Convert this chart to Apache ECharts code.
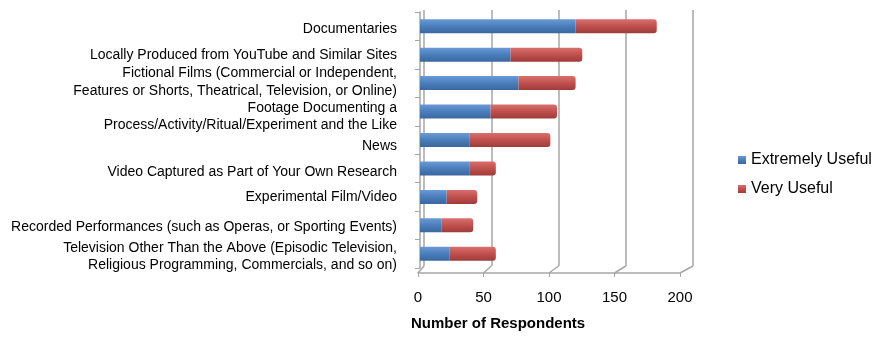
<!DOCTYPE html>
<html><head><meta charset="utf-8">
<script src="https://cdn.jsdelivr.net/npm/echarts@6/dist/echarts.min.js"></script>
<style>html,body{margin:0;padding:0;background:#fff}#c{width:888px;height:348px}</style>
</head><body><div id="c"></div>
<script>
var categories = [
  "Documentaries",
  "Locally Produced from YouTube and Similar Sites",
  "Fictional Films (Commercial or Independent,\nFeatures or Shorts, Theatrical, Television, or Online)",
  "Footage Documenting a\nProcess/Activity/Ritual/Experiment and the Like",
  "News",
  "Video Captured as Part of Your Own Research",
  "Experimental Film/Video",
  "Recorded Performances (such as Operas, or Sporting Events)",
  "Television Other Than the Above (Episodic Television,\nReligious Programming, Commercials, and so on)"
];
var extremelyUseful = [117, 68, 74, 53, 37, 37, 20, 16, 22];
var veryUseful      = [61, 54, 43, 50, 61, 20, 23, 24, 35];
var xTicks = [0, 50, 100, 150, 200];
var seriesNames = ["Extremely Useful", "Very Useful"];
// layout only: how far (px) each category label sits below its bar centre
var labelNudge = [3, 0, -1, 5, 6, 4, 0, 2, 3];

var FONT = "'Liberation Sans', Arial, sans-serif";
function grad(a, b, c) {
  return new echarts.graphic.LinearGradient(0, 0, 0, 1, [
    {offset: 0, color: a}, {offset: 0.5, color: b}, {offset: 1, color: c}]);
}
var rich = {t: {fontFamily: FONT, fontSize: 14, lineHeight: 17.5, color: '#000', align: 'right'}};
labelNudge.forEach(function (n) {
  var k = Math.abs(n);
  if (k) rich['p' + k] = {fontSize: 1, lineHeight: 2 * k, align: 'right'};
});
function labelFmt(value, idx) {
  var lines = String(value).split('\n').map(function (l) { return '{t|' + l + '}'; });
  var n = labelNudge[idx] || 0;
  if (n > 0) lines.unshift('{p' + n + '| }');
  if (n < 0) lines.push('{p' + (-n) + '| }');
  return lines.join('\n');
}
var chart = echarts.init(document.getElementById('c'), null, {renderer: 'canvas'});
var option = {
  animation: false,
  backgroundColor: '#fff',
  color: ['#4a7ebb', '#c0504d'],
  title: {
    text: 'Number of Respondents', left: 406, top: 311,
    textStyle: {fontFamily: FONT, fontSize: 15, fontWeight: 'bold', color: '#000'}
  },
  legend: {
    orient: 'vertical', left: 733, top: 147, itemGap: 13,
    itemWidth: 8, itemHeight: 8, icon: 'rect',
    textStyle: {fontFamily: FONT, fontSize: 16, color: '#000'},
    data: seriesNames
  },
  grid: [
    {left: 424, right: 195, top: 10, bottom: 82},
    {left: 418, right: 208, top: 12, bottom: 75},
    {left: 420, right: 202, top: 12, bottom: 80}
  ],
  xAxis: [
    {gridIndex: 0, type: 'value', min: 0, max: 200, interval: 50,
     axisLine: {show: false}, axisTick: {show: false}, axisLabel: {show: false},
     splitLine: {show: true, lineStyle: {color: '#a6a6a6', width: 1.5}}},
    {gridIndex: 1, type: 'value', min: 0, max: 200, interval: 50,
     axisLine: {show: true, lineStyle: {color: '#a6a6a6', width: 1.5}},
     axisTick: {show: true, length: 4, inside: false, lineStyle: {color: '#a6a6a6'}},
     axisLabel: {fontFamily: FONT, fontSize: 15, color: '#000', margin: 17},
     splitLine: {show: false}},
    {gridIndex: 2, type: 'value', min: 0, max: 200, show: false, splitLine: {show: false}}
  ],
  yAxis: [
    {gridIndex: 0, type: 'category', inverse: true, data: categories, show: false},
    {gridIndex: 1, type: 'category', inverse: true, data: categories, show: false},
    {gridIndex: 2, type: 'category', inverse: true, data: categories,
     axisLine: {show: true, lineStyle: {color: '#a6a6a6', width: 1.5}},
     axisTick: {show: true, length: 5, lineStyle: {color: '#a6a6a6'}},
     axisLabel: {interval: 0, margin: 23, align: 'right', formatter: labelFmt, rich: rich,
                 fontFamily: FONT, fontSize: 14, color: '#000'}}
  ],
  series: [
    {name: seriesNames[0], type: 'bar', stack: 's', xAxisIndex: 2, yAxisIndex: 2,
     barWidth: 14, data: extremelyUseful,
     itemStyle: {color: grad('#6a9ad6', '#4a7ebb', '#3a679f')}},
    {name: seriesNames[1], type: 'bar', stack: 's', xAxisIndex: 2, yAxisIndex: 2,
     barWidth: 14, data: veryUseful,
     itemStyle: {color: grad('#d8706d', '#c0504d', '#9e3c3a'), borderRadius: [0, 3, 3, 0]}}
  ]
};
chart.setOption(option);
// floor diagonals joining back-wall gridlines to front ticks (positions from the axes)
var g = [];
var gb = chart.getModel().getComponent('grid', 0).coordinateSystem.getRect();
var gf = chart.getModel().getComponent('grid', 1).coordinateSystem.getRect();
xTicks.forEach(function (v) {
  var back = chart.convertToPixel({xAxisIndex: 0, yAxisIndex: 0}, [v, 0]);
  var front = chart.convertToPixel({xAxisIndex: 1, yAxisIndex: 1}, [v, 0]);
  g.push({type: 'line', silent: true,
    shape: {x1: back[0], y1: gb.y + gb.height, x2: front[0], y2: gf.y + gf.height},
    style: {stroke: '#a6a6a6', lineWidth: 1.5}});
});
chart.setOption({graphic: g});
</script></body></html>
